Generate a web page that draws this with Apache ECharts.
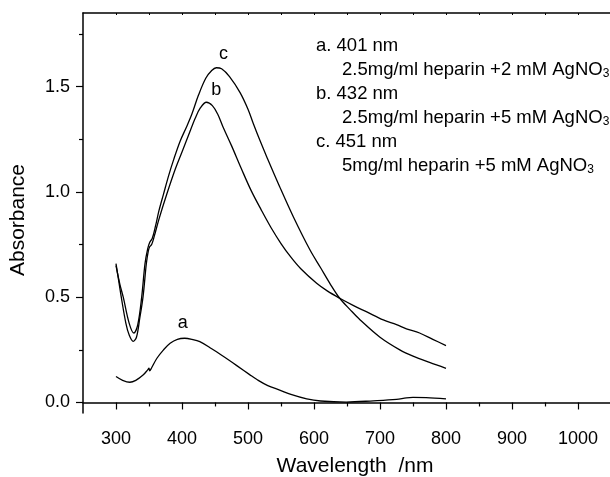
<!DOCTYPE html>
<html>
<head>
<meta charset="utf-8">
<script src="https://cdn.jsdelivr.net/npm/echarts@6/dist/echarts.min.js"></script>
<style>
  html, body { margin: 0; padding: 0; background: #fff; }
  #chart { width: 610px; height: 477px; }
</style>
</head>
<body>
<div id="chart"></div>
<script>
// curve a: 2.5mg/ml heparin + 2 mM AgNO3
const wlA = [300, 310, 321, 330, 341, 348, 350, 351, 354, 362, 372, 382, 393, 404, 415, 427, 445, 463, 483, 503, 513, 530, 548, 565, 589, 610, 649, 690, 725, 740, 750, 770, 800];
const absA = [0.123, 0.105, 0.096, 0.105, 0.13, 0.155, 0.163, 0.150, 0.165, 0.21, 0.25, 0.281, 0.30, 0.305, 0.30, 0.289, 0.255, 0.218, 0.175, 0.131, 0.11, 0.08, 0.059, 0.038, 0.017, 0.007, 0.002, 0.008, 0.015, 0.022, 0.024, 0.023, 0.017];

// curve b: 2.5mg/ml heparin + 5 mM AgNO3
const wlB = [300, 304, 308, 315, 320, 326, 331, 336, 341, 346, 349, 351, 354, 358, 365, 377, 390, 400, 410, 420, 428, 437, 446, 454, 462, 475, 490, 505, 520, 535, 550, 565, 580, 604, 620, 639, 660, 680, 705, 725, 740, 760, 780, 800];
const absB = [0.66, 0.58, 0.50, 0.376, 0.32, 0.29, 0.31, 0.40, 0.503, 0.66, 0.72, 0.74, 0.75, 0.79, 0.87, 0.99, 1.11, 1.19, 1.27, 1.35, 1.40, 1.426, 1.41, 1.37, 1.31, 1.22, 1.11, 1.005, 0.915, 0.83, 0.755, 0.69, 0.635, 0.566, 0.53, 0.495, 0.46, 0.43, 0.392, 0.37, 0.35, 0.33, 0.30, 0.27];

// curve c: 5mg/ml heparin + 5 mM AgNO3
const wlC = [300, 306, 311, 320, 327, 333, 339, 344, 348, 351, 355, 360, 365, 372, 380, 387, 397, 407, 415, 425, 436, 445, 452, 460, 472, 488, 500, 508, 518, 528, 548, 569, 594, 610, 624, 639, 655, 670, 700, 730, 750, 775, 800];
const absC = [0.65, 0.56, 0.50, 0.376, 0.33, 0.37, 0.503, 0.661, 0.73, 0.76, 0.78, 0.84, 0.91, 0.99, 1.08, 1.15, 1.24, 1.31, 1.37, 1.46, 1.54, 1.577, 1.59, 1.585, 1.548, 1.472, 1.393, 1.325, 1.245, 1.17, 1.025, 0.88, 0.724, 0.64, 0.566, 0.495, 0.44, 0.392, 0.31, 0.25, 0.22, 0.19, 0.162];

const curveNames = ['a', 'b', 'c'];
const curveLabelAt = [[401, 0.376], [452, 1.485], [463, 1.656]];

const xMajor = [300, 400, 500, 600, 700, 800, 900, 1000];
const xMinor = [350, 450, 550, 650, 750, 850, 950];
const xTop = [300, 350, 400, 450, 500, 550, 600, 650, 700, 750, 800, 850, 900, 950, 1000];
const yMajor = [0, 0.5, 1.0, 1.5];
const yMinor = [0.25, 0.75, 1.25, 1.75];

const notes = [
    'a. 401 nm',
    '2.5mg/ml heparin +2 mM AgNO{sub|3}',
    'b. 432 nm',
    '2.5mg/ml heparin +5 mM AgNO{sub|3}',
    'c. 451 nm',
    '5mg/ml heparin +5 mM AgNO{sub|3}'
];

const FONT = '"Liberation Sans", Arial, sans-serif';
const zip = (xs, ys) => xs.map((x, i) => [x, ys[i]]);

const el = document.getElementById('chart');
const chart = echarts.init(el);

const lineSeries = (name, data, at) => ({
    name: name,
    type: 'line',
    data: data,
    smooth: 0.35,
    symbol: 'none',
    silent: true,
    lineStyle: { color: '#000', width: 1.3 },
    markPoint: {
        symbol: 'circle',
        symbolSize: 0,
        silent: true,
        label: { show: true, position: 'inside', formatter: name, color: '#000', fontSize: 18, fontFamily: FONT },
        data: [{ coord: at }]
    }
});

const hiddenAxis = {
    axisLine: { show: false },
    axisLabel: { show: false },
    splitLine: { show: false }
};

chart.setOption({
    animation: false,
    backgroundColor: '#fff',
    grid: { left: 83, top: 13, right: -1, bottom: 64, outerBoundsMode: 'none' },
    xAxis: [
        {
            type: 'value', position: 'bottom', min: 250, max: 1050,
            name: 'Wavelength  /nm', nameLocation: 'middle', nameGap: 43,
            nameTextStyle: { fontSize: 21, color: '#000', fontFamily: FONT, padding: [0, 0, 0, 16] },
            axisLine: { lineStyle: { color: '#000', width: 1.5 } },
            axisTick: { customValues: xMajor, length: 7, lineStyle: { color: '#000', width: 1.2 } },
            axisLabel: { customValues: xMajor, margin: 17, fontSize: 18, color: '#000', fontFamily: FONT,
                formatter: v => String(v) },
            splitLine: { show: false }
        },
        Object.assign({
            type: 'value', position: 'bottom', min: 250, max: 1050,
            axisTick: { customValues: xMinor, length: 4, lineStyle: { color: '#000', width: 1.2 } }
        }, hiddenAxis),
        {
            type: 'value', position: 'top', min: 250, max: 1050,
            axisLine: { lineStyle: { color: '#000', width: 1.5 } },
            axisTick: { customValues: xTop, inside: true, length: 2, lineStyle: { color: '#000', width: 1 } },
            axisLabel: { show: false },
            splitLine: { show: false }
        }
    ],
    yAxis: [
        {
            type: 'value', position: 'left', min: -0.05, max: 1.85,
            name: 'Absorbance', nameLocation: 'middle', nameGap: 54,
            nameTextStyle: { fontSize: 21, color: '#000', fontFamily: FONT, padding: [0, 14, 0, 0] },
            axisLine: { lineStyle: { color: '#000', width: 1.5 } },
            axisTick: { customValues: yMajor, length: 7, lineStyle: { color: '#000', width: 1.2 } },
            axisLabel: { customValues: yMajor, margin: 13, fontSize: 18, color: '#000', fontFamily: FONT,
                formatter: v => v.toFixed(1) },
            splitLine: { show: false }
        },
        Object.assign({
            type: 'value', position: 'left', min: -0.05, max: 1.85,
            axisTick: { customValues: yMinor, length: 4, lineStyle: { color: '#000', width: 1.2 } }
        }, hiddenAxis)
    ],
    graphic: notes.map((t, i) => ({
        type: 'text',
        left: i % 2 ? 342 : 316,
        top: 36 + i * 24,
        silent: true,
        style: {
            text: t,
            fill: '#000',
            fontSize: 18.5,
            fontFamily: FONT,
            rich: { sub: { fontSize: 12, fontFamily: FONT, padding: [9, 0, 0, 0] } }
        }
    })),
    series: [
        lineSeries(curveNames[0], zip(wlA, absA), curveLabelAt[0]),
        lineSeries(curveNames[1], zip(wlB, absB), curveLabelAt[1]),
        lineSeries(curveNames[2], zip(wlC, absC), curveLabelAt[2])
    ]
});

window.addEventListener('resize', () => chart.resize());
</script>
</body>
</html>
